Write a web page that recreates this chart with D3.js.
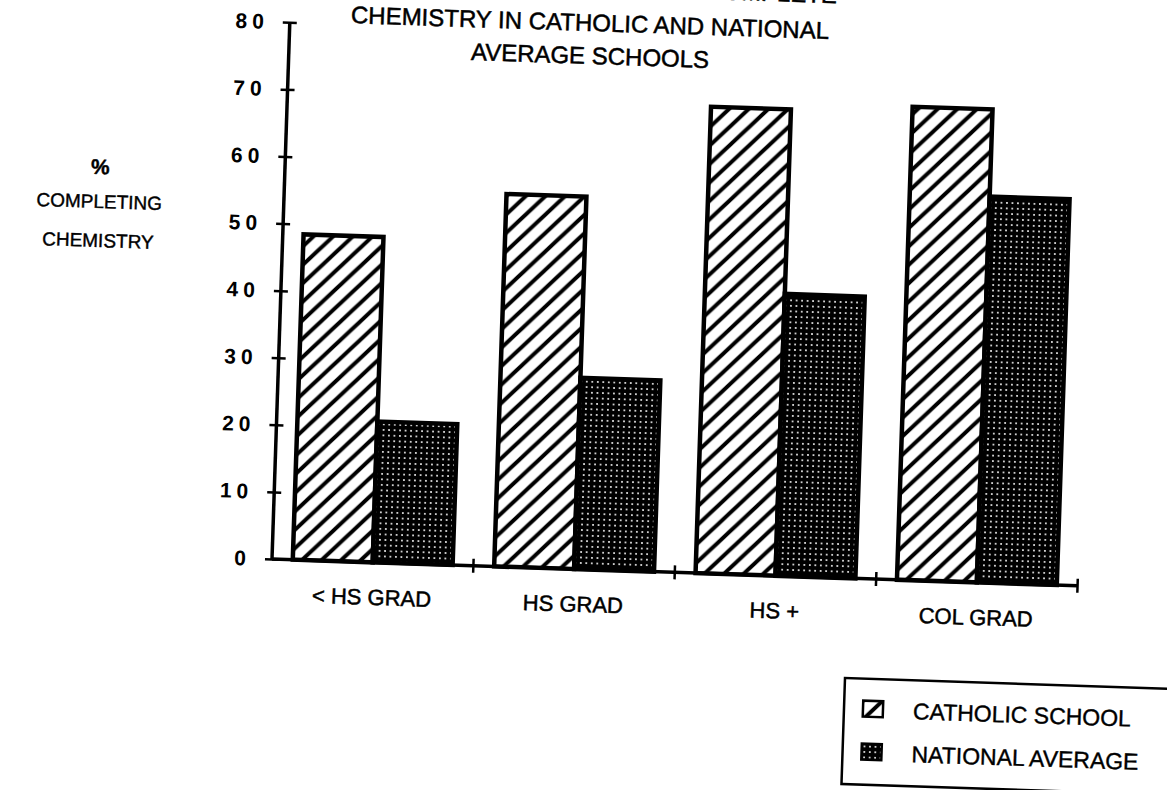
<!DOCTYPE html>
<html>
<head>
<meta charset="utf-8">
<script src="https://cdn.jsdelivr.net/npm/d3@7"></script>
<style>
  body { margin: 0; background: #fff; }
  svg { display: block; }
</style>
</head>
<body>
<svg id="chart" width="1167" height="790"></svg>
<script>
// values
var categories = ["< HS GRAD", "HS GRAD", "HS +", "COL GRAD"];
var catholicValues = [48.5, 55.5, 69.5, 70.5];
var nationalValues = [21, 28.5, 42, 57.5];
var seriesNames = ["CATHOLIC SCHOOL", "NATIONAL AVERAGE"];
var yTicks = [0, 10, 20, 30, 40, 50, 60, 70, 80];
var titleLines = ["PERCENT OF STUDENTS WHO COMPLETE", "CHEMISTRY IN CATHOLIC AND NATIONAL", "AVERAGE SCHOOLS"];
var yLabelLines = ["%", "COMPLETING", "CHEMISTRY"];

var narrow = "'Liberation Sans Narrow', 'Liberation Sans', Arial, sans-serif";
var skew = 1.9; // the page was scanned a little crooked

var svg = d3.select("#chart");

// patterns
var defs = svg.append("defs");
var hatch = defs.append("pattern")
      .attr("id", "hatch")
      .attr("patternUnits", "userSpaceOnUse")
      .attr("width", 19).attr("height", 19);
hatch.append("rect").attr("width", 19).attr("height", 19).attr("fill", "#fff");
hatch.append("path")
      .attr("d", "M-5,5 L5,-5 M0,19 L19,0 M14,24 L24,14")
      .attr("stroke", "#000")
      .attr("stroke-width", 4);

var dots = defs.append("pattern")
      .attr("id", "dots")
      .attr("patternUnits", "userSpaceOnUse")
      .attr("width", 5.5).attr("height", 5.5);
dots.append("rect").attr("width", 5.5).attr("height", 5.5).attr("fill", "#000");
dots.append("circle").attr("cx", 2.75).attr("cy", 2.75).attr("r", 1).attr("fill", "#fff");

var fills = ["url(#hatch)", "url(#dots)"];

// plot area
var plot = svg.append("g").attr("transform", "rotate(" + skew + ",272,559)");

var x = d3.scaleBand().domain(categories).range([272, 1078]).padding(0);
var xs = d3.scaleBand().domain([0, 1]).range([0, x.bandwidth()]).paddingOuter(0.26).paddingInner(0);
var y = d3.scaleLinear().domain([0, 80]).range([559, 22]);

var rows = categories.map(function(c, i) {
      return { cat: c, values: [catholicValues[i], nationalValues[i]] };
});

var groups = plot.selectAll(".grp")
      .data(rows)
      .enter().append("g")
      .attr("class", "grp")
      .attr("transform", d => "translate(" + x(d.cat) + ",0)");

groups.selectAll("rect")
      .data(d => d.values.map((v, k) => ({ k: k, v: v })))
      .enter().append("rect")
      .attr("x", d => xs(d.k))
      .attr("y", d => y(d.v))
      .attr("width", xs.bandwidth())
      .attr("height", d => y(0) - y(d.v))
      .attr("fill", d => fills[d.k])
      .attr("stroke", "#000")
      .attr("stroke-width", 4.5);

// Y axis
var yAxis = plot.append("g")
      .attr("transform", "translate(272,0)")
      .call(d3.axisLeft(y).tickValues(yTicks).tickSize(7).tickPadding(14).tickFormat(d3.format("d")));
yAxis.select(".domain").remove();
yAxis.append("line")
      .attr("y1", y(0)).attr("y2", y(80))
      .attr("stroke", "#000").attr("stroke-width", 3.5);
yAxis.selectAll(".tick line").attr("x1", -7).attr("x2", 7).attr("stroke-width", 2.5);
yAxis.selectAll(".tick text")
      .style("font-family", "'Liberation Sans', Arial, sans-serif")
      .style("font-weight", "bold")
      .style("font-size", "21px")
      .style("letter-spacing", "5px")
      .attr("fill", "#000");

// X axis
var xAxis = plot.append("g")
      .attr("transform", "translate(0," + y(0) + ")")
      .call(d3.axisBottom(x).tickSize(0).tickPadding(27));
xAxis.select(".domain").remove();
xAxis.append("line")
      .attr("x1", 272).attr("x2", 1078)
      .attr("stroke", "#000").attr("stroke-width", 3.5);
xAxis.selectAll(".sep")
      .data(categories)
      .enter().append("line")
      .attr("x1", d => x(d) + x.bandwidth()).attr("x2", d => x(d) + x.bandwidth())
      .attr("y1", -7).attr("y2", 7)
      .attr("stroke", "#000").attr("stroke-width", 2.5);
xAxis.selectAll(".tick text")
      .style("font-family", narrow)
      .style("font-size", "22px")
      .attr("fill", "#000")
      .attr("stroke", "#000")
      .attr("stroke-width", 0.5);

// title (first line runs off the top of the scan)
svg.append("g").selectAll("text")
      .data(titleLines)
      .enter().append("text")
      .attr("x", 590)
      .attr("y", (d, i) => i == 0 ? -5 : -2 + i * 33)
      .attr("transform", (d, i) => "rotate(" + skew + ",590," + (-9 + i * 33) + ")")
      .attr("text-anchor", "middle")
      .style("font-family", narrow)
      .style("font-size", "24px")
      .attr("stroke", "#000")
      .attr("stroke-width", 0.5)
      .text(d => d);

// Y label
svg.append("g").selectAll("text")
      .data(yLabelLines)
      .enter().append("text")
      .attr("x", 99)
      .attr("y", (d, i) => [174, 208, 247][i])
      .attr("transform", "rotate(" + skew + ",99,208)")
      .attr("text-anchor", "middle")
      .style("font-family", narrow)
      .style("font-weight", (d, i) => i == 0 ? "bold" : "normal")
      .style("font-size", (d, i) => i == 0 ? "21px" : "19px")
      .attr("stroke", "#000")
      .attr("stroke-width", 0.4)
      .text(d => d);

// legend
var legend = svg.append("g").attr("transform", "rotate(" + skew + ",845,678)");
legend.append("rect")
      .attr("x", 845).attr("y", 678)
      .attr("width", 340).attr("height", 106)
      .attr("fill", "none").attr("stroke", "#000").attr("stroke-width", 2.5);

var items = legend.selectAll(".item")
      .data(seriesNames)
      .enter().append("g")
      .attr("class", "item")
      .attr("transform", (d, i) => "translate(864," + (700 + i * 43) + ")");
items.append("rect")
      .attr("width", 20).attr("height", 16)
      .attr("fill", (d, i) => fills[i])
      .attr("stroke", "#000").attr("stroke-width", 2.5);
items.append("text")
      .attr("x", 50).attr("y", 17)
      .style("font-family", narrow)
      .style("font-size", "23px")
      .attr("stroke", "#000")
      .attr("stroke-width", 0.4)
      .text(d => d);
</script>
</body>
</html>
